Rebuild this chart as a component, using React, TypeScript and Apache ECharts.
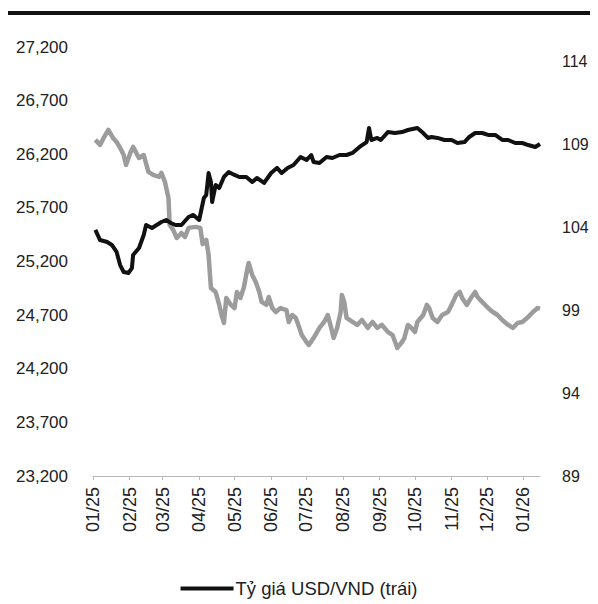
import React, { useEffect, useRef } from "react";
import * as echarts from "echarts";

const leftTicks = [23200, 23700, 24200, 24700, 25200, 25700, 26200, 26700, 27200];
const rightTicks = [89, 94, 99, 104, 109, 114];

const usdDates = [
  "2025-01-03", "2025-01-07", "2025-01-13", "2025-01-17", "2025-01-21", "2025-01-24", "2025-01-27", "2025-01-31",
  "2025-02-03", "2025-02-04", "2025-02-09", "2025-02-13", "2025-02-15", "2025-02-20", "2025-02-24", "2025-02-28",
  "2025-03-04", "2025-03-08", "2025-03-12", "2025-03-17", "2025-03-23", "2025-03-27", "2025-04-01", "2025-04-05",
  "2025-04-07", "2025-04-09", "2025-04-11", "2025-04-12", "2025-04-15", "2025-04-18", "2025-04-22", "2025-04-26",
  "2025-05-01", "2025-05-05", "2025-05-11", "2025-05-16", "2025-05-20", "2025-05-26", "2025-06-01", "2025-06-06",
  "2025-06-10", "2025-06-15", "2025-06-20", "2025-06-26", "2025-07-01", "2025-07-05", "2025-07-07", "2025-07-12",
  "2025-07-18", "2025-07-23", "2025-07-29", "2025-08-04", "2025-08-09", "2025-08-15", "2025-08-21", "2025-08-23",
  "2025-08-25", "2025-08-30", "2025-09-02", "2025-09-08", "2025-09-14", "2025-09-20", "2025-09-25", "2025-10-03",
  "2025-10-08", "2025-10-12", "2025-10-15", "2025-10-20", "2025-10-26", "2025-11-01", "2025-11-06", "2025-11-12",
  "2025-11-16", "2025-11-21", "2025-11-27", "2025-12-02", "2025-12-08", "2025-12-14", "2025-12-19", "2025-12-25",
  "2025-12-31", "2026-01-05", "2026-01-11", "2026-01-15",
];
const usdValues = [
  25494, 25400, 25382, 25354, 25289, 25167, 25102, 25093,
  25139, 25261, 25326, 25447, 25540, 25512, 25540, 25568,
  25587, 25559, 25540, 25540, 25615, 25634, 25587, 25792,
  25820, 26025, 25941, 25755, 25913, 25885, 25988, 26034,
  26007, 25988, 25988, 25941, 25979, 25932, 26025, 26072,
  26025, 26072, 26100, 26174, 26146, 26193, 26128, 26118,
  26174, 26165, 26193, 26193, 26212, 26268, 26314, 26445,
  26333, 26352, 26333, 26407, 26398, 26407, 26426, 26445,
  26398, 26352, 26361, 26352, 26333, 26333, 26305, 26314,
  26361, 26398, 26398, 26380, 26380, 26333, 26333, 26305,
  26305, 26286, 26268, 26296,
];

const dxyDates = [
  "2025-01-03", "2025-01-07", "2025-01-10", "2025-01-14", "2025-01-18", "2025-01-21", "2025-01-24", "2025-01-27",
  "2025-01-29", "2025-02-02", "2025-02-04", "2025-02-09", "2025-02-13", "2025-02-17", "2025-02-21", "2025-02-26",
  "2025-02-28", "2025-03-03", "2025-03-06", "2025-03-07", "2025-03-10", "2025-03-13", "2025-03-17", "2025-03-20",
  "2025-03-23", "2025-03-29", "2025-04-02", "2025-04-04", "2025-04-07", "2025-04-09", "2025-04-10", "2025-04-11",
  "2025-04-15", "2025-04-18", "2025-04-20", "2025-04-22", "2025-04-24", "2025-04-28", "2025-05-01", "2025-05-03",
  "2025-05-06", "2025-05-09", "2025-05-12", "2025-05-13", "2025-05-16", "2025-05-19", "2025-05-22", "2025-05-24",
  "2025-05-28", "2025-05-30", "2025-06-02", "2025-06-05", "2025-06-09", "2025-06-14", "2025-06-16", "2025-06-19",
  "2025-06-22", "2025-06-25", "2025-06-27", "2025-07-01", "2025-07-03", "2025-07-07", "2025-07-12", "2025-07-16",
  "2025-07-19", "2025-07-22", "2025-07-24", "2025-07-27", "2025-07-30", "2025-07-31", "2025-08-02", "2025-08-04",
  "2025-08-09", "2025-08-13", "2025-08-17", "2025-08-22", "2025-08-26", "2025-08-30", "2025-09-03", "2025-09-08",
  "2025-09-12", "2025-09-16", "2025-09-20", "2025-09-22", "2025-09-25", "2025-09-28", "2025-10-01", "2025-10-03",
  "2025-10-08", "2025-10-11", "2025-10-13", "2025-10-16", "2025-10-20", "2025-10-24", "2025-10-29", "2025-11-01",
  "2025-11-05", "2025-11-08", "2025-11-10", "2025-11-14", "2025-11-18", "2025-11-21", "2025-11-23", "2025-11-27",
  "2025-12-02", "2025-12-06", "2025-12-10", "2025-12-14", "2025-12-19", "2025-12-23", "2025-12-27", "2025-12-31",
  "2026-01-05", "2026-01-09", "2026-01-13", "2026-01-15",
];
const dxyValues = [
  109.29, 108.99, 109.41, 109.89, 109.41, 109.17, 108.81, 108.38,
  107.78, 108.57, 108.87, 108.2, 108.38, 107.36, 107.18, 107.06,
  107.3, 106.75, 105.79, 104.16, 103.86, 103.37, 103.67, 103.43,
  103.98, 104.04, 103.98, 103.0, 103.25, 102.35, 101.32, 100.35,
  100.11, 99.33, 98.72, 98.24, 99.75, 99.33, 99.14, 100.11,
  99.75, 100.41, 101.56, 101.86, 101.14, 100.71, 100.11, 99.51,
  99.33, 99.81, 99.14, 98.9, 99.14, 99.02, 98.3, 98.72,
  98.54, 97.94, 97.51, 97.09, 96.91, 97.33, 97.94, 98.3,
  98.72, 97.94, 97.33, 97.94, 98.9, 99.93, 99.51, 98.54,
  98.3, 98.12, 98.42, 97.94, 98.3, 97.94, 98.12, 97.7,
  97.51, 96.73, 97.09, 97.33, 98.12, 97.94, 97.7, 98.3,
  98.72, 99.33, 99.14, 98.54, 98.3, 98.72, 98.9, 99.33,
  99.93, 100.11, 99.75, 99.33, 99.81, 100.11, 99.81, 99.51,
  99.14, 98.9, 98.72, 98.42, 98.12, 97.94, 98.24, 98.3,
  98.6, 98.9, 99.14, 99.1,
];

const usdName = "Tỷ giá USD/VND (trái)";
const dxyName = "DXY (phải)";
const FONT = "Liberation Sans, Arial, sans-serif";

export default function App() {
  const ref = useRef<HTMLDivElement>(null);
  useEffect(() => {
    if (!ref.current) return;
    const chart = echarts.init(ref.current, undefined, { renderer: "svg" });
    chart.setOption({
      animation: false,
      backgroundColor: "#ffffff",
      textStyle: { fontFamily: FONT },
      grid: { left: 93, right: 58, top: 47, bottom: 128, containLabel: false },
      graphic: [
        { type: "rect", left: 8, top: 11, shape: { width: 590, height: 4 }, style: { fill: "#111111" } },
      ],
      legend: {
        data: [usdName],
        bottom: 1,
        left: "center",
        icon: "rect",
        itemWidth: 53,
        itemHeight: 4,
        itemGap: 10,
        textStyle: { fontSize: 18.5, color: "#222", fontFamily: FONT, padding: [0, 0, 0, -3] },
      },
      xAxis: {
        type: "time",
        min: "2025-01-01",
        max: "2026-01-15",
        splitNumber: 13,
        minInterval: 28 * 86400000,
        axisLine: { show: true, lineStyle: { color: "#b8b8b8", width: 1 } },
        axisTick: { show: true, length: 4, lineStyle: { color: "#b8b8b8" } },
        splitLine: { show: false },
        minorTick: { show: false },
        axisLabel: {
          rotate: 90,
          margin: 11,
          fontSize: 18,
          color: "#222",
          fontFamily: FONT,
          hideOverlap: false,
          formatter: (v: number) => {
            const d = new Date(v);
            const mm = String(d.getMonth() + 1).padStart(2, "0");
            const yy = String(d.getFullYear()).slice(2);
            return mm + "/" + yy;
          },
        },
      },
      yAxis: [
        {
          type: "value",
          min: leftTicks[0],
          max: leftTicks[leftTicks.length - 1],
          interval: 500,
          axisLine: { show: false },
          axisTick: { show: false },
          splitLine: { show: false },
          axisLabel: {
            margin: 25,
            fontSize: 17,
            color: "#222",
            fontFamily: FONT,
            formatter: (v: number) => v.toLocaleString("en-US"),
          },
        },
        {
          type: "value",
          min: rightTicks[0],
          max: 114.9,
          interval: 5,
          axisLine: { show: false },
          axisTick: { show: false },
          splitLine: { show: false },
          axisLabel: {
            margin: 22,
            fontSize: 16,
            color: "#222",
            fontFamily: FONT,
            showMaxLabel: false,
            formatter: (v: number) => (rightTicks.includes(v) ? String(v) : ""),
          },
        },
      ],
      series: [
        {
          name: dxyName,
          type: "line",
          yAxisIndex: 1,
          showSymbol: false,
          z: 2,
          lineStyle: { color: "#9c9c9c", width: 4.5, join: "round" },
          itemStyle: { color: "#9c9c9c" },
          data: dxyDates.map((d, i) => [d, dxyValues[i]]),
        },
        {
          name: usdName,
          type: "line",
          yAxisIndex: 0,
          showSymbol: false,
          z: 3,
          lineStyle: { color: "#111111", width: 4, join: "round" },
          itemStyle: { color: "#111111" },
          data: usdDates.map((d, i) => [d, usdValues[i]]),
        },
      ],
    });
    return () => chart.dispose();
  }, []);
  return <div ref={ref} style={{ width: 598, height: 604, marginLeft: -8, marginTop: -8 }} />;
}
